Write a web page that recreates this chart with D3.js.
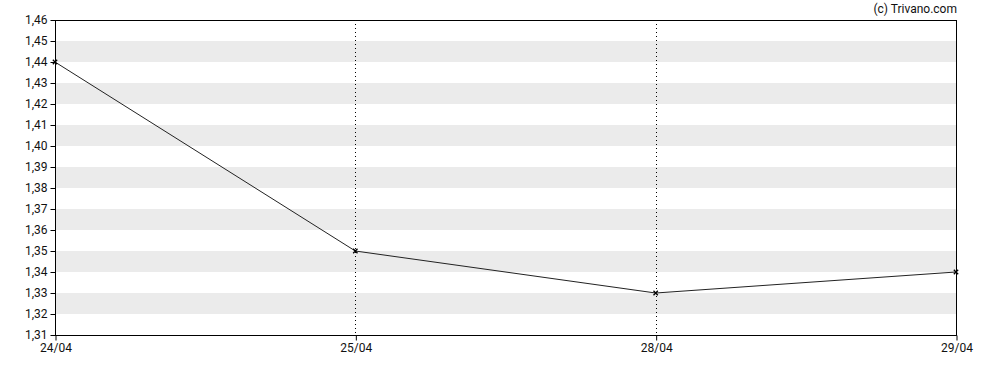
<!DOCTYPE html>
<html>
<head>
<meta charset="utf-8">
<style>
    body { margin: 0; background: #fff; }
    text { font-family: Roboto, "Liberation Sans", sans-serif; font-size: 12px; fill: #111; }
    .grid { stroke: #000; stroke-width: 1px; stroke-dasharray: 1,3; }
</style>
</head>
<body>
<svg width="988" height="370"></svg>
<script src="https://d3js.org/d3.v7.min.js"></script>
<script>

    var dates = ["24/04", "25/04", "28/04", "29/04"];
    var prices = [1.44, 1.35, 1.33, 1.34];
    var yTicks = [1.31, 1.32, 1.33, 1.34, 1.35, 1.36, 1.37, 1.38, 1.39, 1.40, 1.41, 1.42, 1.43, 1.44, 1.45, 1.46];

    var svg = d3.select("svg"),
        margin = {top: 20, right: 32, bottom: 35, left: 55},
        width = +svg.attr("width") - margin.left - margin.right,
        height = +svg.attr("height") - margin.top - margin.bottom,
        g = svg.append("g").attr("transform", "translate(" + margin.left + "," + margin.top + ")");

    var x = d3.scalePoint()
        .domain(dates)
        .range([0, width]);

    var y = d3.scaleLinear()
        .domain([1.31, 1.46])
        .range([height, 0]);

    // alternating stripes
    var bands = yTicks.slice(0, -1).filter(function (d, i) { return i % 2 === 1; });
    g.append("g")
        .selectAll("rect")
        .data(bands)
        .enter().append("rect")
        .attr("x", 0)
        .attr("width", width)
        .attr("y", function (d) { return y(d + 0.01); })
        .attr("height", function (d) { return y(d) - y(d + 0.01); })
        .attr("fill", "#ebebeb");

    // dotted verticals at inner dates
    g.append("g")
        .selectAll("line")
        .data(dates.slice(1, -1))
        .enter().append("line")
        .attr("class", "grid")
        .attr("x1", function (d) { return Math.round(x(d)) + 0.5; })
        .attr("x2", function (d) { return Math.round(x(d)) + 0.5; })
        .attr("y1", 0)
        .attr("y2", height);

    var line = d3.line()
        .x(function (d, i) { return x(dates[i]); })
        .y(function (d) { return y(d); });

    g.append("path")
        .datum(prices)
        .attr("d", line)
        .attr("fill", "none")
        .attr("stroke", "#222")
        .attr("stroke-width", 1);

    g.append("g")
        .selectAll("path")
        .data(prices)
        .enter().append("path")
        .attr("d", d3.symbol().type(d3.symbolX).size(14))
        .attr("transform", function (d, i) { return "translate(" + x(dates[i]) + "," + y(d) + ")"; })
        .attr("stroke", "#000")
        .attr("stroke-width", 1.3);

    // frame
    g.append("rect")
        .attr("x", 0.5)
        .attr("y", 0.5)
        .attr("width", width)
        .attr("height", height)
        .attr("fill", "none")
        .attr("stroke", "#000");

    g.append("g")
        .attr("transform", "translate(0.5,0)")
        .call(d3.axisLeft(y).tickValues(yTicks).tickSize(5).tickPadding(3)
            .tickFormat(function (d) { return d3.format(".2f")(d).replace(".", ","); }))
        .call(function (a) { a.select(".domain").remove(); })
        .call(function (a) { a.selectAll("line").attr("stroke", "#000"); })
        .call(function (a) { a.selectAll("text").style("font-size", "12px").attr("fill", "#111"); });

    g.append("g")
        .attr("transform", "translate(0.5," + (height + 0.5) + ")")
        .call(d3.axisBottom(x).tickSize(5).tickPadding(3))
        .call(function (a) { a.select(".domain").remove(); })
        .call(function (a) { a.selectAll("line").attr("stroke", "#000"); })
        .call(function (a) { a.selectAll("text").style("font-size", "12px").attr("fill", "#111"); });

    svg.append("text")
        .attr("x", 957)
        .attr("y", 13)
        .attr("text-anchor", "end")
        .text("(c) Trivano.com");

</script>
</body>
</html>
